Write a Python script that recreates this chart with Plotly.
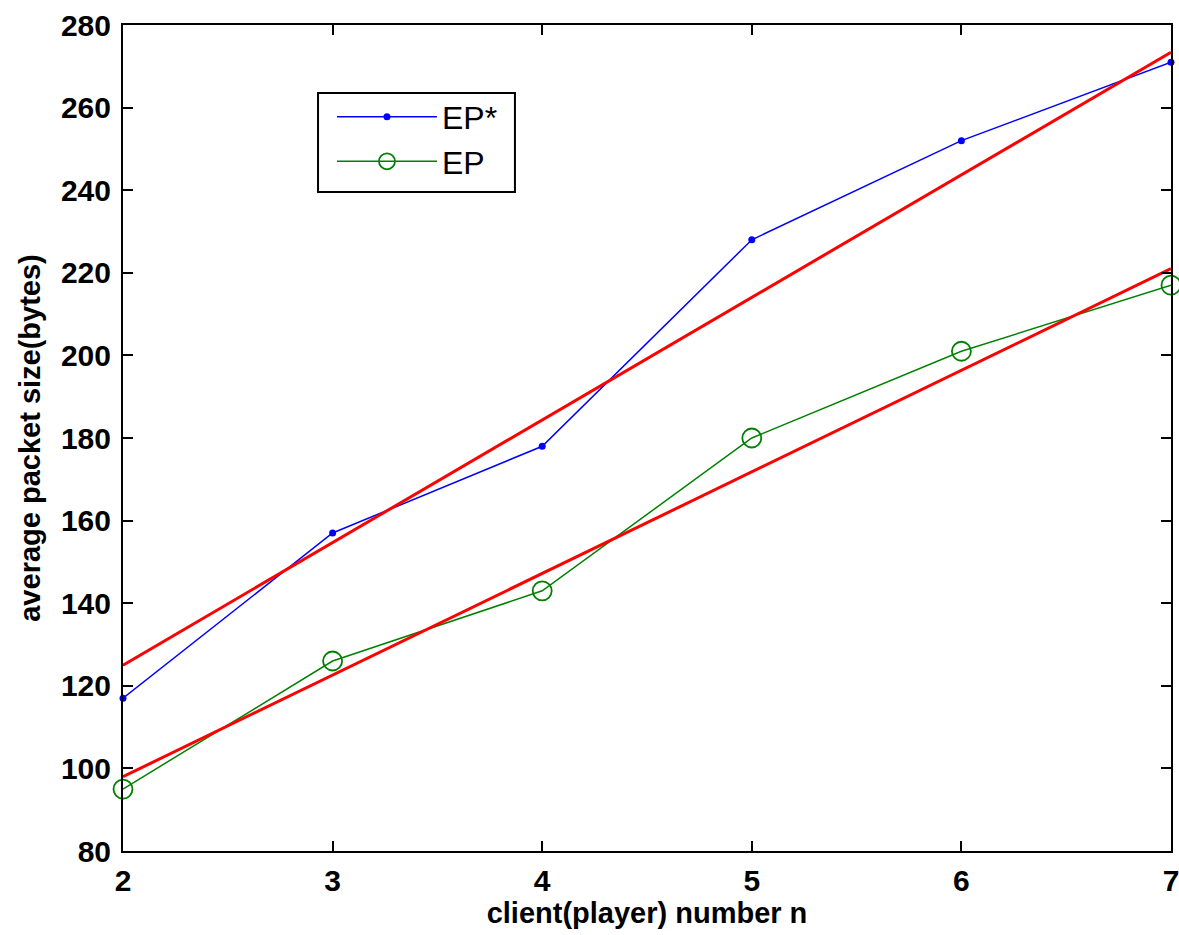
import plotly.graph_objects as go

clients = [2, 3, 4, 5, 6, 7]
ep_star = [117, 157, 178, 228, 252, 271]
ep = [95, 126, 143, 180, 201, 217]

fit_x = [2, 7]
fit_ep_star = [125, 273.4]
fit_ep = [98, 221]

x_ticks = [2, 3, 4, 5, 6, 7]
y_ticks = [80, 100, 120, 140, 160, 180, 200, 220, 240, 260, 280]

FONT = "Liberation Sans"

fig = go.Figure()
fig.add_trace(go.Scatter(x=clients, y=ep_star, mode="lines+markers", name="EP*",
                         line=dict(color="#0000ff", width=1.5),
                         marker=dict(color="#0000ff", size=7, symbol="circle"),
                         cliponaxis=False))
fig.add_trace(go.Scatter(x=clients, y=ep, mode="lines+markers", name="EP",
                         line=dict(color="#008000", width=1.5),
                         marker=dict(color="#008000", size=19, symbol="circle-open",
                                     line=dict(color="#008000", width=1.8)),
                         cliponaxis=False))
fig.add_trace(go.Scatter(x=fit_x, y=fit_ep_star, mode="lines", showlegend=False,
                         line=dict(color="#ff0000", width=3)))
fig.add_trace(go.Scatter(x=fit_x, y=fit_ep, mode="lines", showlegend=False,
                         line=dict(color="#ff0000", width=3)))

axis_common = dict(showgrid=False, zeroline=False, showline=True, linecolor="black",
                   linewidth=2, mirror="ticks", ticks="inside", ticklen=10,
                   tickwidth=1.5, tickcolor="black", automargin=False,
                   ticklabeloverflow="allow",
                   tickfont=dict(family=FONT, size=30, color="black", weight="bold"))

fig.update_xaxes(range=[2, 7], tickvals=x_ticks, ticktext=[str(v) for v in x_ticks],
                 title=dict(text="client(player) number n", standoff=0,
                            font=dict(family=FONT, size=29, color="black", weight="bold")),
                 ticklabelstandoff=2,
                 **axis_common)
fig.update_yaxes(range=[80, 280], tickvals=y_ticks, ticktext=[str(v) for v in y_ticks],
                 title=dict(text="average packet size(bytes)", standoff=12,
                            font=dict(family=FONT, size=29, color="black", weight="bold")),
                 ticklabelstandoff=4,
                 **axis_common)

# legend frame drawn as a paper-referenced rectangle
fig.add_shape(type="rect", xref="paper", yref="paper",
              x0=0.1861, x1=0.3740, y0=0.7978, y1=0.9177,
              line=dict(color="black", width=2), fillcolor="white", layer="above")

fig.update_layout(
    width=1179, height=935,
    margin=dict(l=123, r=8, t=25, b=84),
    paper_bgcolor="white", plot_bgcolor="white",
    showlegend=True,
    legend=dict(x=0.1994, y=0.922, xanchor="left", yanchor="top",
                bgcolor="rgba(0,0,0,0)", borderwidth=0,
                font=dict(family=FONT, size=32, color="black"),
                itemwidth=100, tracegroupgap=0),
)

fig.write_html("out.html",
               config={"displayModeBar": False},
               post_script="document.body.style.margin='0';document.body.style.overflow='hidden';")
